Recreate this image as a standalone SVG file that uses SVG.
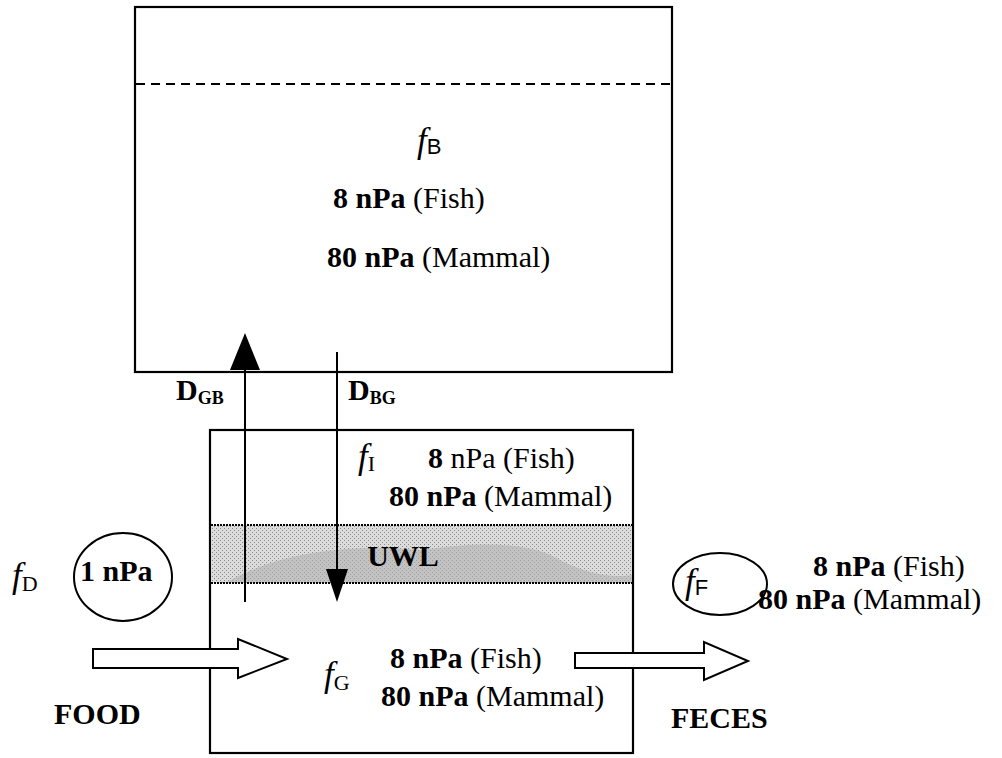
<svg xmlns="http://www.w3.org/2000/svg" width="1002" height="758" viewBox="0 0 1002 758">
<style>
.t{font-family:"Liberation Serif","Times New Roman",serif;font-size:30px;fill:#000}
.b{font-weight:bold}
.f{font-style:italic;font-size:35px}
.ss{font-family:"Liberation Sans",Arial,sans-serif;font-size:22px}
.sub{font-size:22px}
.box{fill:none;stroke:#000;stroke-width:2.2}
.ln{stroke:#000;stroke-width:2}
.blk{fill:#fff;stroke:#000;stroke-width:2}
</style>
<defs>
<pattern id="dith" width="4" height="4" patternUnits="userSpaceOnUse">
<rect width="4" height="4" fill="#dcdcdc"/>
<rect x="0" y="0" width="1" height="1" fill="#8a8a8a"/>
<rect x="2" y="2" width="1" height="1" fill="#8a8a8a"/>
</pattern>
</defs>
<g id="blood">
<rect class="box" x="135" y="7" width="537" height="365"/>
<line x1="136" y1="84" x2="671" y2="84" stroke="#000" stroke-width="2" stroke-dasharray="9,6"/>
<text class="t" x="417" y="152"><tspan class="f">f</tspan><tspan class="ss" dy="2">B</tspan></text>
<text class="t" x="333" y="208"><tspan class="b">8 nPa</tspan>  (Fish)</text>
<text class="t" x="327" y="267"><tspan class="b">80 nPa</tspan> (Mammal)</text>
</g>
<g id="gut">
<rect class="box" x="210" y="430" width="423" height="323"/>
<rect x="211" y="525" width="421" height="58" fill="url(#dith)"/>
<path d="M225 583 Q300 540 420 550 Q520 535 560 560 Q600 580 632 575 L632 583 Z" fill="#b0b0b0" opacity="0.6"/>
<line x1="211" y1="525" x2="632" y2="525" stroke="#000" stroke-width="2" stroke-dasharray="2,1"/>
<line x1="211" y1="583" x2="632" y2="583" stroke="#000" stroke-width="2" stroke-dasharray="2,1"/>
<text class="t b" x="403" y="566" text-anchor="middle">UWL</text>
<text class="t" x="358" y="468"><tspan class="f">f</tspan><tspan class="sub" dy="3">I</tspan></text>
<text class="t" x="428" y="468"><tspan class="b">8</tspan> nPa (Fish)</text>
<text class="t" x="389" y="506"><tspan class="b">80 nPa</tspan> (Mammal)</text>
<text class="t" x="324" y="686"><tspan class="f">f</tspan><tspan class="sub" dy="4">G</tspan></text>
<text class="t" x="390" y="668"><tspan class="b">8 nPa</tspan> (Fish)</text>
<text class="t" x="381" y="706"><tspan class="b">80 nPa</tspan> (Mammal)</text>
</g>
<g id="food">
<text class="t" x="12" y="587"><tspan class="f">f</tspan><tspan class="sub" dy="4">D</tspan></text>
<ellipse class="blk" fill="none" cx="123" cy="577" rx="49" ry="44"/>
<text class="t b" x="80" y="581">1 nPa</text>
<text class="t b" x="54" y="724">FOOD</text>
</g>
<g id="feces">
<ellipse class="blk" cx="720" cy="584" rx="47" ry="31"/>
<text class="t" x="685" y="593"><tspan class="f">f</tspan><tspan class="ss" dy="2">F</tspan></text>
<text class="t" x="813" y="576"><tspan class="b">8 nPa</tspan> (Fish)</text>
<text class="t" x="758" y="609"><tspan class="b">80 nPa</tspan> (Mammal)</text>
<text class="t b" x="671" y="728">FECES</text>
</g>
<g id="connectors">
<line class="ln" x1="245" y1="602" x2="245" y2="360"/>
<polygon points="245,333 230,370 260,370" fill="#000"/>
<text class="t b" x="176" y="400">D<tspan dy="4" font-size="18">GB</tspan></text>
<line class="ln" x1="337" y1="352" x2="337" y2="575"/>
<polygon points="337,602 326,569 348,569" fill="#000"/>
<text class="t b" x="348" y="400">D<tspan dy="4" font-size="18">BG</tspan></text>
<polygon class="blk" points="93,649 238,649 238,639 287,659 238,678 238,668 93,668"/>
<polygon class="blk" points="575,653 704,653 704,642 748,661 704,680 704,668 575,668"/>
</g>
</svg>
